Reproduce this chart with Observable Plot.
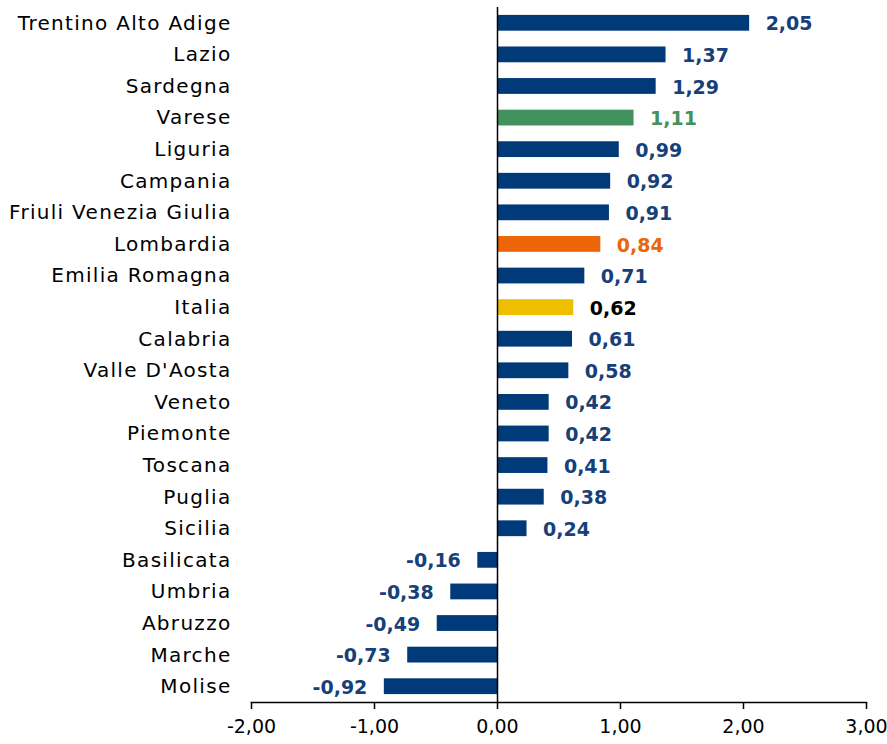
<!DOCTYPE html>
<html>
<head>
<meta charset="utf-8">
<script src="https://cdn.jsdelivr.net/npm/d3@7"></script>
<script src="https://cdn.jsdelivr.net/npm/@observablehq/plot@0.6"></script>
<style>
  html, body { margin: 0; padding: 0; background: #fff; }
  #chart svg { display: block; }
  .ylab text { letter-spacing: 1.3px; }
</style>
</head>
<body>
<div id="chart"></div>
<script>
const regions = ["Trentino Alto Adige","Lazio","Sardegna","Varese","Liguria","Campania","Friuli Venezia Giulia","Lombardia","Emilia Romagna","Italia","Calabria","Valle D'Aosta","Veneto","Piemonte","Toscana","Puglia","Sicilia","Basilicata","Umbria","Abruzzo","Marche","Molise"];
const values = [2.05,1.37,1.29,1.11,0.99,0.92,0.91,0.84,0.71,0.62,0.61,0.58,0.42,0.42,0.41,0.38,0.24,-0.16,-0.38,-0.49,-0.73,-0.92];
const barColors = {"Varese":"#41925C","Lombardia":"#EC6608","Italia":"#F0BE00"};
const labelColors = {"Varese":"#41925C","Lombardia":"#EC6608","Italia":"#000000"};
const defaultBar = "#003A78";
const defaultLabel = "#173F7A";
const xTicks = [-2,-1,0,1,2,3];

const data = regions.map((r,i) => ({region:r, value:values[i]}));
const fmt = v => d3.format(".2f")(v).replace(".", ",").replace("\u2212", "-");
const font = "'DejaVu Sans', sans-serif";

const chart = Plot.plot({
  width: 887,
  height: 744,
  marginLeft: 251,
  marginRight: 21,
  marginTop: 7,
  marginBottom: 42,
  style: {fontFamily: font, fontSize: "18px", background: "#fff", color: "#000"},
  x: {domain: [-2, 3], label: null},
  y: {domain: regions, paddingInner: 0.5, paddingOuter: 0.25, round: false, label: null},
  marks: [
    Plot.barX(data, {y: "region", x: "value", fill: d => barColors[d.region] || defaultBar}),
    Plot.ruleX([0], {stroke: "#000", strokeWidth: 1.5}),
    Plot.frame({anchor: "bottom", stroke: "#000", strokeWidth: 1.5}),
    Plot.axisX({ticks: xTicks, tickSize: 7, tickPadding: 10, tickFormat: fmt, fontSize: 19, stroke: "#000", strokeWidth: 1.5, fill: "#000", label: null}),
    Plot.axisY({tickSize: 0, tickPadding: 20, fontSize: 20, fill: "#000", label: null, className: "ylab"}),
    Plot.text(data.filter(d => d.value >= 0), {y: "region", x: "value", text: d => fmt(d.value), textAnchor: "start", dx: 16, dy: 1, fontWeight: "bold", fontSize: 19, fill: d => labelColors[d.region] || defaultLabel}),
    Plot.text(data.filter(d => d.value < 0), {y: "region", x: "value", text: d => fmt(d.value), textAnchor: "end", dx: -17, dy: 1, fontWeight: "bold", fontSize: 19, fill: d => labelColors[d.region] || defaultLabel})
  ]
});
document.getElementById("chart").appendChild(chart);
</script>
</body>
</html>
